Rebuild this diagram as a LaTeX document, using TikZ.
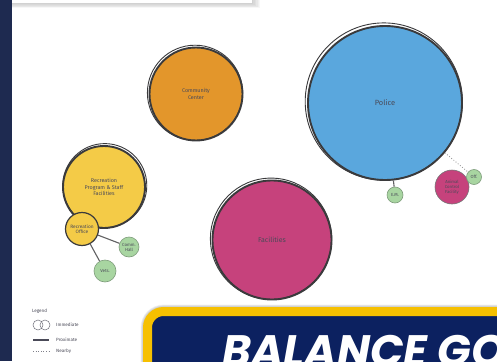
\documentclass[tikz,border=0pt]{standalone}
\usepackage{fontspec}
\setmainfont{Fira Sans}
\newfontfamily\bannerfont{Poppins}
\usetikzlibrary{calc}

\definecolor{navystrip}{HTML}{1E2A50}
\definecolor{bannernavy}{HTML}{0C2160}
\definecolor{bannergold}{HTML}{F6C000}
\definecolor{inkline}{HTML}{3A3A3C}
\definecolor{labelink}{HTML}{4A4A58}
\definecolor{orangefill}{HTML}{E3962B}
\definecolor{bluefill}{HTML}{5AA7DD}
\definecolor{magentafill}{HTML}{C6427C}
\definecolor{yellowfill}{HTML}{F4CB47}
\definecolor{greenfill}{HTML}{A8D5A1}
\definecolor{greenline}{HTML}{7E9C7B}

\tikzset{
  bubble/.style={circle, inner sep=0pt, draw=inkline, line width=1.9pt,
    text=labelink, align=center, font=\fontsize{5.4}{6.4}\selectfont},
  smallbubble/.style={circle, inner sep=0pt, fill=greenfill, draw=greenline,
    line width=0.6pt, text=labelink, align=center, font=\fontsize{4.4}{5}\selectfont},
  sketchring/.style={draw=inkline, line width=0.9pt},
  link/.style={draw=inkline!80, line width=1.1pt},
  nearlink/.style={draw=inkline!60, line width=0.8pt, dotted},
  legendtext/.style={anchor=west, text=labelink, font=\fontsize{4.6}{5}\selectfont, inner sep=0pt}
}

\begin{document}
\begin{tikzpicture}[x=1pt,y=-1pt]
\useasboundingbox (0,0) rectangle (497,361);
\fill[white] (0,0) rectangle (497,361);

% dark strip on the left edge
\fill[navystrip] (0,0) rectangle (12,361);

% white header card with its soft shadow
\foreach \k in {1,...,6}{
  \fill[black,opacity=0.03] (12,-5) rectangle (252+1.4*\k,3+0.9*\k);
}
\fill[white] (12,-5) rectangle (252,3);

% main bubbles
\node[bubble, fill=orangefill, minimum size=93pt] (cc) at (196,94) {Community\\Center};
\draw[sketchring] ($(cc.center)+(-1,-1.2)$) circle (47.6pt);

\node[bubble, fill=bluefill, minimum size=154pt, font=\fontsize{7.5}{8}\selectfont] (police) at (385,103) {Police};
\draw[sketchring] ($(police.center)+(-1.2,-1.5)$) circle (78.6pt);

\node[bubble, fill=yellowfill, minimum size=82pt] (rec) at (104,187) {Recreation\\Program \& Staff\\Facilities};
\draw[sketchring] ($(rec.center)+(0.8,-1.4)$) circle (42pt);

\node[bubble, fill=magentafill, minimum size=119pt, font=\fontsize{7}{8}\selectfont] (fac) at (272,240) {Facilities};
\draw[sketchring] ($(fac.center)+(-1,-1.3)$) circle (60.6pt);

\node[bubble, fill=yellowfill, minimum size=33pt, line width=1.2pt, font=\fontsize{4.8}{5.6}\selectfont] (office) at (82,229) {Recreation\\Office};

\node[bubble, fill=magentafill, minimum size=34pt, line width=0.6pt, draw=inkline!70, font=\fontsize{4.3}{4.9}\selectfont] (animal) at (452,187) {Animal\\Control\\Facility};

% satellite bubbles
\node[smallbubble, minimum size=16pt] (em) at (395,195) {E.M.};
\node[smallbubble, minimum size=15pt] (off) at (474,177) {Off.};
\node[smallbubble, minimum size=20pt] (hall) at (129,247) {Comm.\\Hall};
\node[smallbubble, minimum size=22pt] (vets) at (105,271) {Vets.};

% connectors
\draw[link] (police) -- (em);
\draw[link] (office) -- (hall);
\draw[link] (office) -- (vets);
\draw[nearlink] (police) -- (off);

% legend
\node[legendtext] (lgtitle) at (32,311) {Legend};
\draw[draw=labelink!80, line width=0.5pt] (38,325) circle (5pt);
\draw[draw=labelink!80, line width=0.5pt] (45,325) circle (5pt);
\node[legendtext] (lgimm) at (56,325) {Immediate};
\coordinate (lgsa) at (33,340);
\coordinate (lgsb) at (49,340);
\draw[draw=labelink, line width=1.2pt] (lgsa) -- (lgsb);
\node[legendtext] (lgprox) at (56,339.5) {Proximate};
\coordinate (lgda) at (33,351.5);
\coordinate (lgdb) at (49,351.5);
\draw[draw=labelink!70, line width=0.6pt, dotted] (lgda) -- (lgdb);
\node[legendtext] (lgnear) at (56,351.5) {Nearby};

% title banner
\foreach \k in {1,...,4}{
  \draw[black,opacity=0.05,line width=9pt+1.2pt*\k, rounded corners=16pt] (147.5,311.5) rectangle (560,420);
}
\draw[fill=bannernavy, draw=bannergold, line width=9pt, rounded corners=16pt] (147.5,311.5) rectangle (560,420);
\node[anchor=base west, inner sep=0pt, text=white, font={\bannerfont\fontsize{44}{44}\selectfont\bfseries\itshape}] (title) at (222,366) {BALANCE GO};
\end{tikzpicture}
\end{document}
